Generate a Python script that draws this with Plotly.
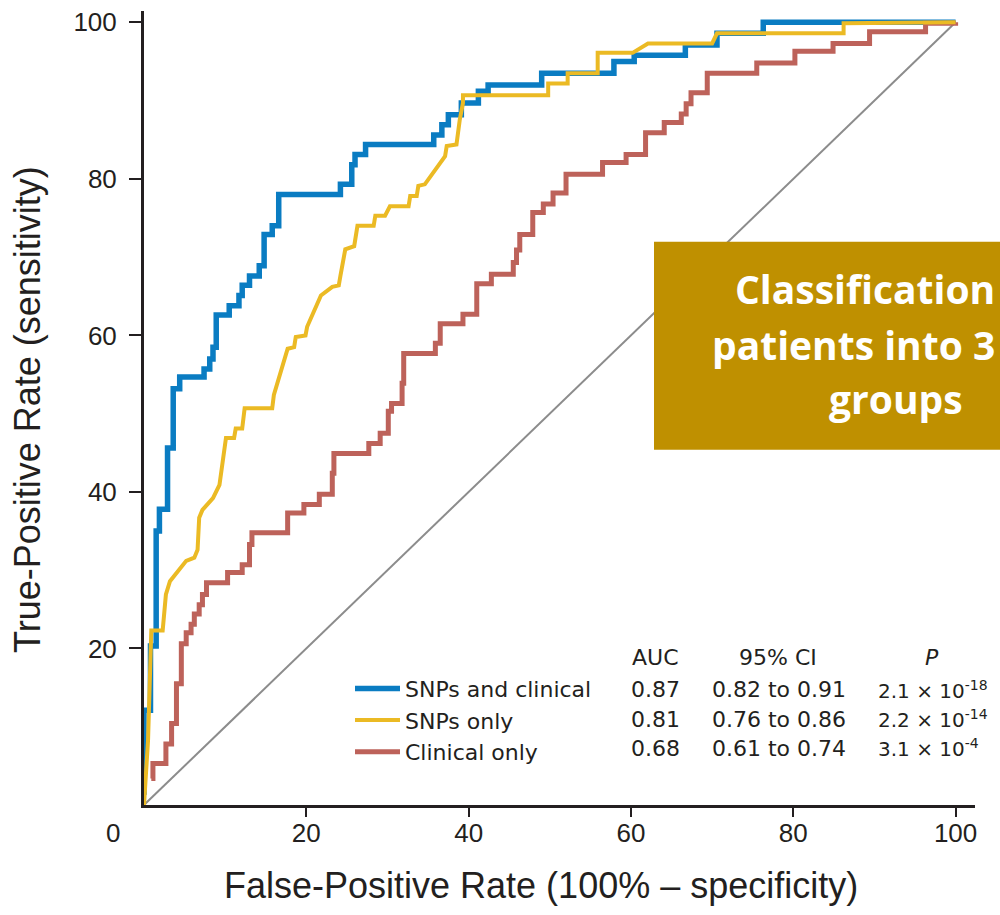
import plotly.graph_objects as go

# ---------------- data ----------------
series_names = ["SNPs and clinical", "SNPs only", "Clinical only"]

fpr_combined = [0, 0, 0.8, 1.5, 1.9, 2.9, 3.6, 4.4, 7.4, 8.1, 8.5, 8.9, 10.5, 11.7, 12.1, 13.0,
                14.2, 14.8, 15.8, 16.6, 24.2, 25.6, 26.0, 27.3, 35.7, 36.7, 37.5, 39.1, 41.2, 42.4,
                49.0, 57.9, 60.4, 66.7, 70.6, 76.3, 100]
tpr_combined = [1.3, 12.1, 20.3, 35.0, 37.8, 45.6, 53.2, 54.7, 55.7, 57.0, 58.5, 62.6, 63.8, 65.1,
                66.4, 67.6, 68.9, 72.9, 74.0, 78.0, 79.3, 81.8, 83.1, 84.4, 85.6, 86.9, 88.2, 89.7,
                91.2, 92.0, 93.5, 95.0, 95.8, 97.1, 98.6, 100, 100]

fpr_snps = [0, 0.5, 0.9, 2.3, 2.7, 3.2, 5.2, 6.2, 6.6, 6.8, 7.2, 8.5, 9.3, 10.1, 11.1, 11.3, 12.1,
            12.4, 15.8, 16.0, 17.7, 18.5, 18.7, 19.9, 20.1, 21.8, 23.2, 24.0, 24.2, 24.8, 25.9,
            26.3, 28.3, 28.5, 29.7, 30.3, 32.6, 32.8, 33.6, 33.8, 34.6, 37.1, 37.3, 38.5, 38.9,
            39.3, 39.3, 49.8, 49.8, 52.2, 52.2, 55.9, 55.9, 60.2, 62.1, 70.0, 70.6, 86.2, 86.2, 100]
tpr_snps = [0, 8.3, 22.3, 22.3, 26.9, 28.6, 31.2, 31.6, 32.6, 36.7, 37.7, 39.2, 40.9, 46.9, 46.9,
            48.1, 48.1, 50.7, 50.7, 52.4, 58.3, 58.5, 59.8, 60.0, 61.1, 65.1, 66.2, 66.4, 67.6,
            71.0, 71.4, 74.0, 74.0, 75.3, 75.3, 76.5, 76.5, 77.8, 77.8, 79.1, 79.3, 82.9, 84.2,
            84.4, 87.5, 89.7, 90.7, 90.7, 92.2, 92.2, 93.5, 93.5, 96.1, 96.1, 97.3, 97.3, 98.6,
            98.6, 99.9, 100]

fpr_clinical = [0.9, 1.1, 2.7, 3.4, 4.0, 4.6, 5.2, 5.8, 6.2, 6.8, 7.2, 7.7, 10.3, 12.1, 13.0, 13.3,
                17.7, 19.7, 21.6, 23.2, 23.4, 27.7, 29.1, 30.1, 30.5, 31.8, 32.0, 35.9, 36.5, 39.3,
                41.0, 42.8, 45.5, 45.9, 46.3, 47.9, 49.2, 50.4, 52.0, 56.5, 59.4, 61.8, 64.1, 66.2,
                66.8, 67.4, 69.4, 75.5, 80.2, 84.9, 89.4, 96.3, 100]
tpr_clinical = [3.4, 5.3, 7.8, 10.4, 15.5, 20.6, 22.0, 23.1, 24.4, 25.6, 26.9, 28.4, 29.7, 30.7,
                33.3, 34.8, 37.3, 38.4, 39.7, 42.4, 44.9, 46.2, 47.5, 50.3, 51.3, 53.9, 57.7, 59.0,
                61.5, 62.7, 66.6, 67.8, 69.3, 70.9, 72.9, 75.7, 76.8, 78.2, 80.6, 82.1, 83.1, 85.9,
                87.2, 88.3, 89.6, 91.0, 93.5, 94.8, 96.3, 97.3, 98.8, 99.9, 100]

chance_x = [0, 100]
chance_y = [0, 100]

x_ticks = [20, 40, 60, 80, 100]
y_ticks = [20, 40, 60, 80, 100]

table_headers = ["AUC", "95% CI", "<i>P</i>"]
auc_values = ["0.87", "0.81", "0.68"]
ci_values = ["0.82 to 0.91", "0.76 to 0.86", "0.61 to 0.74"]
p_values = ["2.1 × 10<sup>-18</sup>", "2.2 × 10<sup>-14</sup>", "3.1 × 10<sup>-4</sup>"]

x_title = "False-Positive Rate (100% – specificity)"
y_title = "True-Positive Rate (sensitivity)"
box_lines = ["Classification", "patients into 3", "groups"]

# ---------------- style ----------------
W, H = 1000, 915
ML, MR, MT, MB = 144, 25, 7, 110
PW, PH = W - ML - MR, H - MT - MB
INK = "#231F20"
BLUE, YELLOW, RED, GRAY = "#0A7CC2", "#EBBA24", "#BD625A", "#8C8C8C"
AXFONT = "Liberation Sans, Arial, sans-serif"
TXFONT = "DejaVu Sans, Verdana, sans-serif"
BOXFONT = "Open Sans, Noto Sans, sans-serif"


def fx(px):
    return (px - ML) / PW


def fy(py):
    return (H - MB - py) / PH


fig = go.Figure()
fig.add_trace(go.Scatter(x=chance_x, y=chance_y, mode="lines", showlegend=False,
                         line=dict(color=GRAY, width=2), hoverinfo="skip"))
fig.add_trace(go.Scatter(x=fpr_combined, y=tpr_combined, mode="lines", name=series_names[0],
                         line=dict(color=BLUE, width=5.5, shape="hv"), legendrank=1))
fig.add_trace(go.Scatter(x=fpr_clinical, y=tpr_clinical, mode="lines", name=series_names[2],
                         line=dict(color=RED, width=5, shape="hv"), legendrank=3))
fig.add_trace(go.Scatter(x=fpr_snps, y=tpr_snps, mode="lines", name=series_names[1],
                         line=dict(color=YELLOW, width=4), legendrank=2))

annotations = []
# table header
col_x = [655, 778, 932]
for hx, txt in zip(col_x, table_headers):
    annotations.append(dict(x=fx(hx), y=fy(657), xref="paper", yref="paper", text=txt,
                            showarrow=False, xanchor="center", yanchor="middle",
                            font=dict(family=TXFONT, size=22, color=INK)))
row_y = [689, 719, 748]
for i in range(3):
    annotations.append(dict(x=fx(655), y=fy(row_y[i]), xref="paper", yref="paper",
                            text=auc_values[i], showarrow=False, xanchor="center",
                            yanchor="middle", font=dict(family=TXFONT, size=22, color=INK)))
    annotations.append(dict(x=fx(779), y=fy(row_y[i]), xref="paper", yref="paper",
                            text=ci_values[i], showarrow=False, xanchor="center",
                            yanchor="middle", font=dict(family=TXFONT, size=22, color=INK)))
    annotations.append(dict(x=fx(876), y=fy(row_y[i]), xref="paper", yref="paper",
                            text=p_values[i], showarrow=False, xanchor="left",
                            yanchor="middle", font=dict(family=TXFONT, size=20, color=INK)))
# origin label
annotations.append(dict(x=fx(113), y=fy(833), xref="paper", yref="paper", text="0",
                        showarrow=False, xanchor="center", yanchor="middle",
                        font=dict(family=AXFONT, size=26, color=INK)))
# axis titles
annotations.append(dict(x=fx(541), y=fy(886), xref="paper", yref="paper", text=x_title,
                        showarrow=False, xanchor="center", yanchor="middle",
                        font=dict(family=AXFONT, size=36, color=INK)))
annotations.append(dict(x=fx(28), y=fy(408), xref="paper", yref="paper", text=y_title,
                        showarrow=False, xanchor="center", yanchor="middle", textangle=-90,
                        font=dict(family=AXFONT, size=36, color=INK)))
# callout text (lines as visible in the reference)
box_specs = [(997, 286, "right"), (997, 342, "right"), (896, 396, "center")]
for (bx, by, anc), line in zip(box_specs, box_lines):
    annotations.append(dict(x=fx(bx), y=fy(by), xref="paper", yref="paper", text=line,
                            showarrow=False, xanchor=anc, yanchor="middle",
                            font=dict(family=BOXFONT, size=39, color="white", weight="bold")))

fig.update_layout(
    width=W, height=H,
    margin=dict(l=ML, r=MR, t=MT, b=MB, pad=0),
    plot_bgcolor="white", paper_bgcolor="white",
    xaxis=dict(range=[0, PW / 8.116], showgrid=False, zeroline=False, showline=True,
               linecolor=INK, linewidth=3, ticks="outside", ticklen=9, tickwidth=2,
               tickcolor=INK, tickvals=x_ticks, tickfont=dict(family=AXFONT, size=26, color=INK),
               ticklabelstandoff=-6),
    yaxis=dict(range=[0, PH / 7.866], showgrid=False, zeroline=False, showline=True,
               linecolor=INK, linewidth=3, ticks="outside", ticklen=12, tickwidth=2,
               tickcolor=INK, tickvals=y_ticks, tickfont=dict(family=AXFONT, size=26, color=INK),
               ticklabelstandoff=7),
    legend=dict(x=fx(350), y=fy(667), xanchor="left", yanchor="top",
                font=dict(family=TXFONT, size=22, color=INK), bgcolor="rgba(0,0,0,0)",
                itemwidth=45, tracegroupgap=0),
    shapes=[dict(type="rect", xref="paper", yref="paper", x0=fx(654), x1=fx(1140),
                 y0=fy(448), y1=fy(239), fillcolor="#BF9000", line=dict(width=0),
                 layer="above")],
    annotations=annotations,
)

fig.write_html("out.html", config={"displayModeBar": False},
               post_script="document.body.style.margin='0';document.body.style.overflow='hidden';")
